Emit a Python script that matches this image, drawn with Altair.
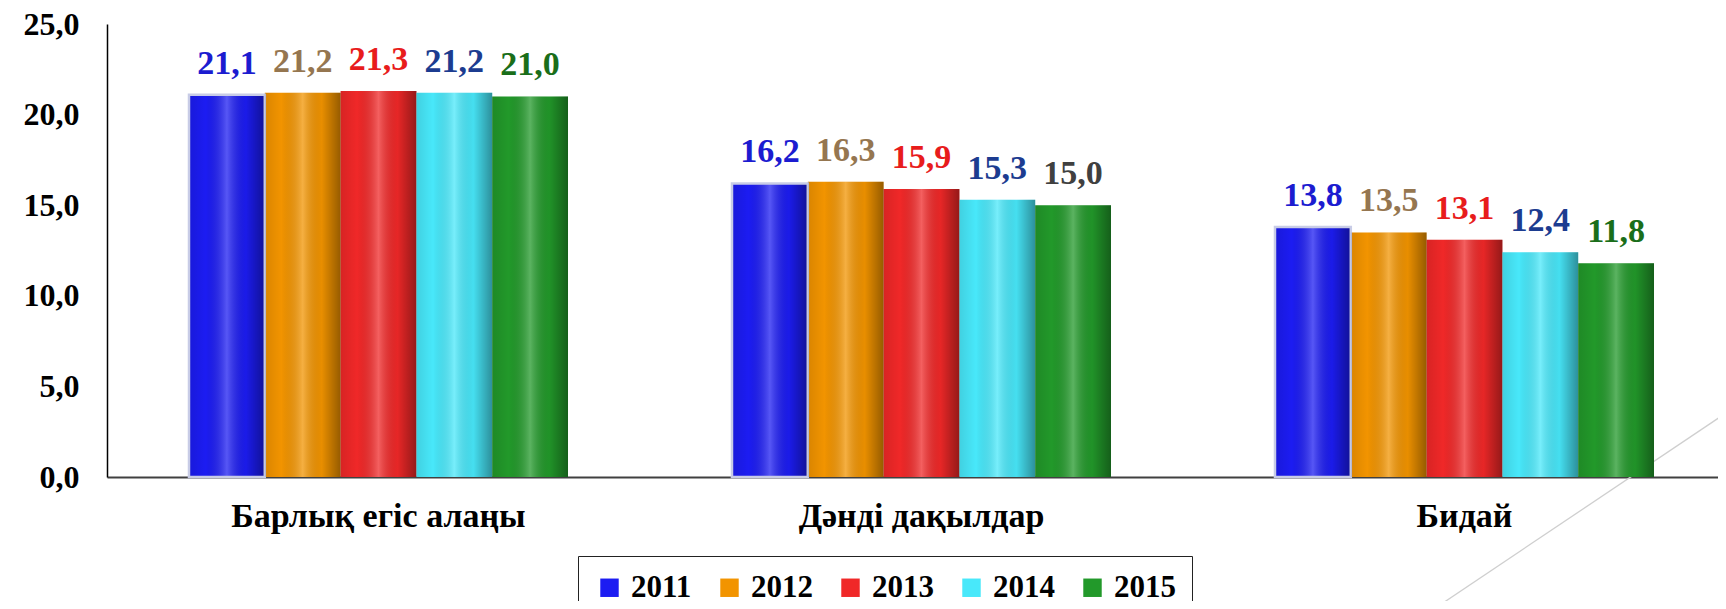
import altair as alt
import pandas as pd

categories = ["Барлық егіс алаңы", "Дәнді дақылдар", "Бидай"]
years = ["2011", "2012", "2013", "2014", "2015"]
v2011 = [21.1, 16.2, 13.8]
v2012 = [21.2, 16.3, 13.5]
v2013 = [21.3, 15.9, 13.1]
v2014 = [21.2, 15.3, 12.4]
v2015 = [21.0, 15.0, 11.8]
y_ticks = [0, 5, 10, 15, 20, 25]

series = [v2011, v2012, v2013, v2014, v2015]
rows = []
for i, c in enumerate(categories):
    for yr, vals in zip(years, series):
        rows.append({"cat": c, "year": yr, "value": vals[i]})
df = pd.DataFrame(rows)

bar_colors = ["#1c1cf2", "#f29400", "#f02828", "#48e8fa", "#22992a"]
label_colors = ["#1c1cd0", "#957650", "#e81c1c", "#1c3c90", "#1a6e1a"]
FONT = "Liberation Serif, DejaVu Serif, Times New Roman, serif"

x = alt.X(
    "cat:N", sort=categories,
    scale=alt.Scale(paddingInner=0.302, paddingOuter=0.151, range=[0, 1629]),
    axis=alt.Axis(title=None, labelAngle=0, labelFont=FONT, labelFontSize=34,
                  labelFontWeight="bold", labelColor="black", ticks=False,
                  labelLimit=0, domainColor="#404040", domainWidth=2,
                  labelPadding=22),
)
xo = alt.XOffset("year:N", sort=years,
                 scale=alt.Scale(domain=years, paddingInner=0, paddingOuter=0))
y = alt.Y(
    "value:Q", scale=alt.Scale(domain=[0, 25], nice=False),
    axis=alt.Axis(title=None, values=y_ticks,
                  labelExpr="replace(format(datum.value,'.1f'),'.',',')",
                  labelFont=FONT, labelFontSize=32, labelFontWeight="bold",
                  labelColor="black", ticks=False, grid=False,
                  domainColor="black", domainWidth=1.5, labelPadding=28),
)

base = alt.Chart(df)

deco = alt.Chart(pd.DataFrame({"a": [0]})).mark_rule(
    color="#cfcfcf", strokeWidth=1.3, clip=False
).encode(x=alt.value(1619), y=alt.value(389), x2=alt.value(1324), y2=alt.value(587))

bars = base.mark_bar().encode(
    x=x, xOffset=xo, y=y,
    color=alt.Color(
        "year:N", scale=alt.Scale(domain=years, range=bar_colors),
        legend=alt.Legend(title=None, orient="none", legendX=471, legendY=532,
                          direction="horizontal", symbolType="square",
                          symbolSize=340, labelFont=FONT, labelFontSize=31,
                          labelFontWeight="bold", labelColor="black",
                          strokeColor="#222222",
                          padding=16, columnPadding=22,
                          symbolStrokeWidth=0, labelOffset=6),
    ),
)

gradient = alt.Gradient(
    gradient="linear", x1=0, x2=1, y1=0, y2=0,
    stops=[
        alt.GradientStop(color="rgba(0,0,0,0.10)", offset=0),
        alt.GradientStop(color="rgba(0,0,0,0.0)", offset=0.22),
        alt.GradientStop(color="rgba(255,255,255,0.26)", offset=0.5),
        alt.GradientStop(color="rgba(0,0,0,0.04)", offset=0.75),
        alt.GradientStop(color="rgba(0,0,0,0.38)", offset=1),
    ],
)
shine = base.mark_bar(fill=gradient, stroke="#c8cce6").encode(
    x=x, xOffset=xo, y=y,
    strokeWidth=alt.condition("datum.year == '2011'", alt.value(2.5), alt.value(0)),
)

labels = base.transform_calculate(
    lbl="replace(format(datum.value,'.1f'),'.',',')"
).mark_text(font=FONT, fontSize=34, fontWeight="bold", dy=-31, baseline="middle").encode(
    x=x, xOffset=xo, y=y, text="lbl:N",
    color=alt.condition(
        "datum.cat == 'Дәнді дақылдар' && datum.year == '2015'",
        alt.value("#404040"),
        alt.Color("year:N", scale=alt.Scale(domain=years, range=label_colors), legend=None),
    ),
)

chart = alt.layer(deco, bars, shine, labels).resolve_scale(color="independent").properties(
    width=1611, height=453,
    padding={"left": 99, "top": 16, "right": 0, "bottom": 124},
    autosize=alt.AutoSizeParams(type="none"),
).configure_view(stroke=None)

chart.save("out.html", embed_options={"renderer": "svg", "actions": False})
